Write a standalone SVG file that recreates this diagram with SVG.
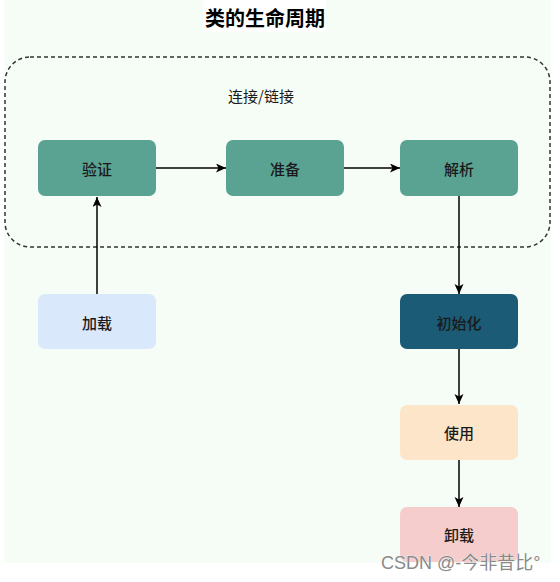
<svg xmlns="http://www.w3.org/2000/svg" width="560" height="582" viewBox="0 0 560 582">
<style>
.node{stroke:none;}
.lbl{font-family:"Noto Sans CJK SC","Liberation Sans",sans-serif;font-size:15px;font-weight:500;fill:#1a1a1a;text-anchor:middle;dominant-baseline:central;}
.edge{stroke:#000;stroke-width:1.5;fill:none;}
</style>
<defs>
<marker id="arr" markerUnits="userSpaceOnUse" markerWidth="12" markerHeight="10" refX="10" refY="4.5" orient="auto">
<path d="M0,0 L10,4.5 L0,9 L2.5,4.5 Z" fill="#000"/>
</marker>
</defs>
<rect x="0" y="0" width="560" height="582" fill="#ffffff"/>
<rect x="4" y="0" width="547" height="563" fill="#f6fdf6"/>
<rect x="203" y="0" width="123" height="32" fill="#ffffff"/>
<text x="265" y="17" font-family="Noto Sans CJK SC,Liberation Sans,sans-serif" font-size="20" font-weight="bold" fill="#000" text-anchor="middle" dominant-baseline="central">类的生命周期</text>
<g id="group-link">
<rect x="5" y="57" width="545" height="190" rx="25" ry="25" fill="none" stroke="#333" stroke-width="1.5" stroke-dasharray="4,3"/>
<text x="261" y="95" class="lbl" style="font-size:15px;font-weight:400">连接/链接</text>
</g>
<g id="connectors">
<line class="edge" x1="156" y1="168" x2="226" y2="168" marker-end="url(#arr)"/>
<line class="edge" x1="344" y1="168" x2="400" y2="168" marker-end="url(#arr)"/>
<line class="edge" x1="97" y1="295" x2="97" y2="197" marker-end="url(#arr)"/>
<line class="edge" x1="459" y1="196" x2="459" y2="294" marker-end="url(#arr)"/>
<line class="edge" x1="459" y1="349" x2="459" y2="404" marker-end="url(#arr)"/>
<line class="edge" x1="459" y1="460" x2="459" y2="507" marker-end="url(#arr)"/>
</g>
<g id="node-verify">
<rect class="node" x="38" y="140" width="118" height="56" rx="7" fill="#5aa393"/>
<text class="lbl" x="97" y="168">验证</text>
</g>
<g id="node-prepare">
<rect class="node" x="226" y="140" width="118" height="56" rx="7" fill="#5aa393"/>
<text class="lbl" x="285" y="168">准备</text>
</g>
<g id="node-resolve">
<rect class="node" x="400" y="140" width="118" height="56" rx="7" fill="#5aa393"/>
<text class="lbl" x="459" y="168">解析</text>
</g>
<g id="node-load">
<rect class="node" x="38" y="294" width="118" height="55" rx="7" fill="#dae8fc"/>
<text class="lbl" x="97" y="322">加载</text>
</g>
<g id="node-init">
<rect class="node" x="400" y="294" width="118" height="55" rx="7" fill="#1b5b75"/>
<text class="lbl" x="459" y="322">初始化</text>
</g>
<g id="node-use">
<rect class="node" x="400" y="405" width="118" height="55" rx="7" fill="#fde5c9"/>
<text class="lbl" x="459" y="432">使用</text>
</g>
<g id="node-unload">
<rect class="node" x="400" y="507" width="118" height="55" rx="7" fill="#f5cdcc"/>
<text class="lbl" x="459" y="534">卸载</text>
</g>
<text x="381" y="569" font-family="Liberation Sans,Noto Sans CJK SC,sans-serif" font-size="18" fill="#8a8a8a" stroke="#ffffff" stroke-width="0.6" paint-order="stroke">CSDN @-今非昔比°</text>
</svg>
